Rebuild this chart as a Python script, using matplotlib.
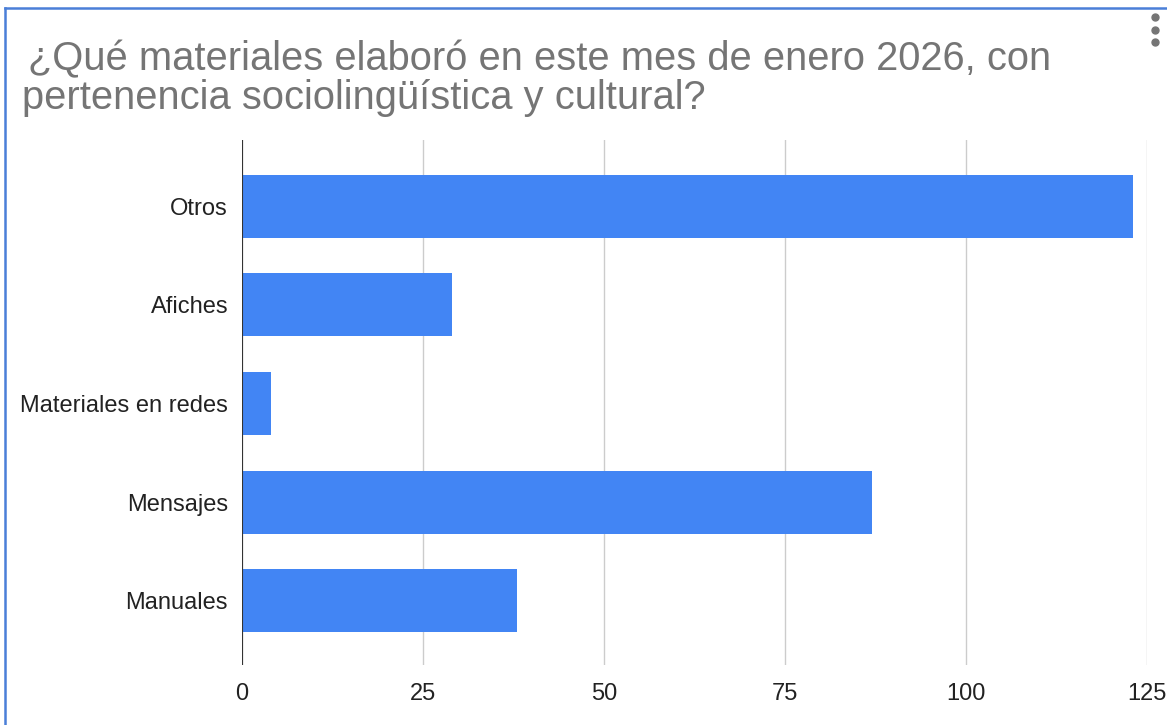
import matplotlib.pyplot as plt
from matplotlib.lines import Line2D
import numpy as np

# Datos
categorias = ["Otros", "Afiches", "Materiales en redes", "Mensajes", "Manuales"]
valores = [123, 29, 4, 87, 38]
ticks_x = [0, 25, 50, 75, 100, 125]

titulo_1 = "¿Qué materiales elaboró en este mes de enero 2026, con"
titulo_2 = "pertenencia sociolingüística y cultural?"

plt.rcParams['font.family'] = ['Liberation Sans', 'DejaVu Sans']

W, H = 1167, 725
fig = plt.figure(figsize=(W / 100, H / 100), dpi=100)
fig.patch.set_facecolor("white")

# Ejes en coordenadas de píxel de la imagen
x0, x1 = 242, 1147
y_top, y_bot = 140, 665
ax = fig.add_axes([x0 / W, 1 - y_bot / H, (x1 - x0) / W, (y_bot - y_top) / H])

pos = np.arange(len(categorias))
ax.barh(pos, valores, height=0.64, color="#4285f4", zorder=3)

ax.set_xlim(0, 125)
ax.set_ylim(4.65, -0.67)
ax.set_xticks(ticks_x)
ax.set_xticklabels([str(t) for t in ticks_x])
ax.set_yticks(pos)
ax.set_yticklabels(categorias)

ax.grid(axis="x", color="#cccccc", linewidth=1, zorder=0)
ax.axvline(0, color="#333333", linewidth=1.5, zorder=4)
for s in ax.spines.values():
    s.set_visible(False)
ax.tick_params(axis="both", length=0, labelsize=17, labelcolor="#222222")
ax.tick_params(axis="x", pad=13)
ax.tick_params(axis="y", pad=10)

# Título en dos líneas
fig.text(28 / W, 1 - 70 / H, titulo_1, fontsize=28.7, color="#757575", va="baseline", ha="left")
fig.text(22 / W, 1 - 109 / H, titulo_2, fontsize=28.7, color="#757575", va="baseline", ha="left")

# Menú de tres puntos
for yy in (17, 30, 42):
    fig.add_artist(Line2D([1155 / W], [1 - yy / H], marker="o", markersize=5,
                          color="#757575", transform=fig.transFigure))

# Borde azul (izquierda y arriba)
fig.add_artist(Line2D([4.5 / W, 4.5 / W], [0, 1 - 7.5 / H], color="#4a7fd8", linewidth=1.8,
                      transform=fig.transFigure))
fig.add_artist(Line2D([4.5 / W, 1], [1 - 7.5 / H, 1 - 7.5 / H], color="#4a7fd8", linewidth=1.8,
                      transform=fig.transFigure))

fig.savefig("out.png", dpi=100)
